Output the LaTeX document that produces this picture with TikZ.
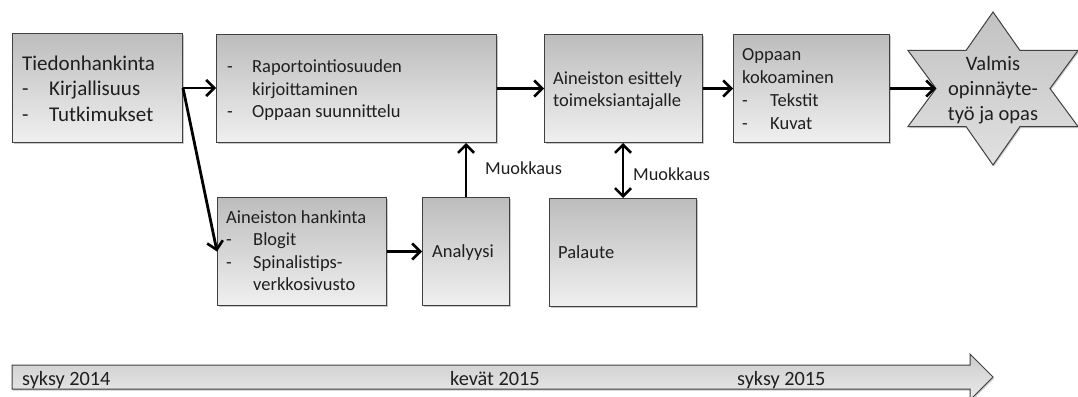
\documentclass[tikz,border=0pt]{standalone}
\usepackage{fontspec}
\setmainfont{Carlito}
\usetikzlibrary{arrows.meta,shadows,calc}
\begin{document}
\begin{tikzpicture}[x=1pt,y=-1pt,
  shade/.style={draw=black!75, line width=1pt, top color=black!26, bottom color=black!6,
    drop shadow={shadow xshift=1pt, shadow yshift=-1.5pt, opacity=0.3, fill=black!70}},
  box/.style={shade, rectangle, inner sep=0pt, anchor=north west},
  txt/.style={anchor=base west, inner sep=0pt, align=left, text=black!88,
    font=\fontsize{18.5}{22.5}\selectfont},
  flow/.style={line width=2.8pt, -{Straight Barb[length=8pt,width=16pt,line width=2.6pt]}},
  both/.style={line width=2.8pt, {Straight Barb[length=8pt,width=16pt,line width=2.6pt]}-{Straight Barb[length=8pt,width=16pt,line width=2.6pt]}},
  lbl/.style={anchor=west, inner sep=0pt, text=black!88, font=\fontsize{18.3}{22}\selectfont},
  tl/.style={anchor=base west, inner sep=0pt, text=black!88, font=\fontsize{20.3}{24}\selectfont}
]
\useasboundingbox (0,0) rectangle (1078,396);
\clip (0,0) rectangle (1078,396);

% boxes
\node[box, minimum width=170pt, minimum height=109pt] (b1) at (12,33) {};
\node[box, minimum width=280pt, minimum height=108pt] (b2) at (216,34) {};
\node[box, minimum width=158pt, minimum height=108pt] (b3) at (544,34) {};
\node[box, minimum width=156pt, minimum height=108pt] (b4) at (733,34) {};
\node[box, minimum width=169pt, minimum height=108pt] (b5) at (217,197) {};
\node[box, minimum width=87pt, minimum height=108pt] (b6) at (422,197) {};
\node[box, minimum width=147pt, minimum height=108pt] (b7) at (549,198) {};

% star
\coordinate (sc) at (993,88.5);
\coordinate (starL) at (936,88.5);
\path[shade, top color=black!24, bottom color=black!12] (993,12) -- (1020,50.5) -- (1078,50.5) -- (1050,88.5) -- (1078,126.5) -- (1020,126.5)
  -- (993,165) -- (966,126.5) -- (908,126.5) -- (starL) -- (908,50.5) -- (966,50.5) -- cycle;

% texts (anchored at the baseline of the last line)
\node[txt, font=\fontsize{21}{25.5}\selectfont] (t1) at (22,121)
  {Tiedonhankinta\\\makebox[27pt][l]{-}Kirjallisuus\\\makebox[27pt][l]{-}Tutkimukset};
\node[txt, font=\fontsize{18.5}{22}\selectfont] (t2) at (227,117)
  {\makebox[25pt][l]{-}Raportointiosuuden\\\hspace*{25pt}kirjoittaminen\\\makebox[25pt][l]{-}Oppaan suunnittelu};
\node[txt, font=\fontsize{18.5}{22}\selectfont] (t3) at (553,106)
  {Aineiston esittely\\toimeksiantajalle};
\node[txt, font=\fontsize{18.5}{23}\selectfont] (t4) at (742,129)
  {Oppaan\\kokoaminen\\\makebox[28pt][l]{-}Tekstit\\\makebox[28pt][l]{-}Kuvat};
\node[txt] (t5) at (226,290.5)
  {Aineiston hankinta\\\makebox[27pt][l]{-}Blogit\\\makebox[27pt][l]{-}Spinalistips-\\\hspace*{27pt}verkkosivusto};
\node[txt] (t6) at (432,257) {Analyysi};
\node[txt] (t7) at (558,258) {Palaute};
\node[txt, anchor=base, align=center, font=\fontsize{20.5}{25}\selectfont] (ts) at (993,120)
  {Valmis\\opinnäyte-\\työ ja opas};

% connectors
\draw[flow] (b1.east) -- (b1.east -| b2.west);
\draw[flow] (b1.east) -- (b5.west);
\draw[flow] (b2.east) -- (b2.east -| b3.west);
\draw[flow] (b3.east) -- (b3.east -| b4.west);
\draw[flow] (b4.east) -- (starL);
\draw[flow] (b5.east) -- (b5.east -| b6.west);
\draw[flow] (b6.north) -- (b6.north |- b2.south);
\draw[both] (b7.north) -- (b7.north |- b3.south);
\node[lbl] (m1) at (485,168) {Muokkaus};
\node[lbl] (m2) at (633,174) {Muokkaus};

% timeline
\path[shade, top color=black!20, bottom color=black!8] (12,365) -- (970,365) -- (970,354) -- (993,377)
  -- (970,400) -- (970,389) -- (12,389) -- cycle;
\node[tl] (y1) at (22,385) {syksy 2014};
\node[tl] (y2) at (450,385) {kevät 2015};
\node[tl] (y3) at (737,385) {syksy 2015};
\end{tikzpicture}
\end{document}
